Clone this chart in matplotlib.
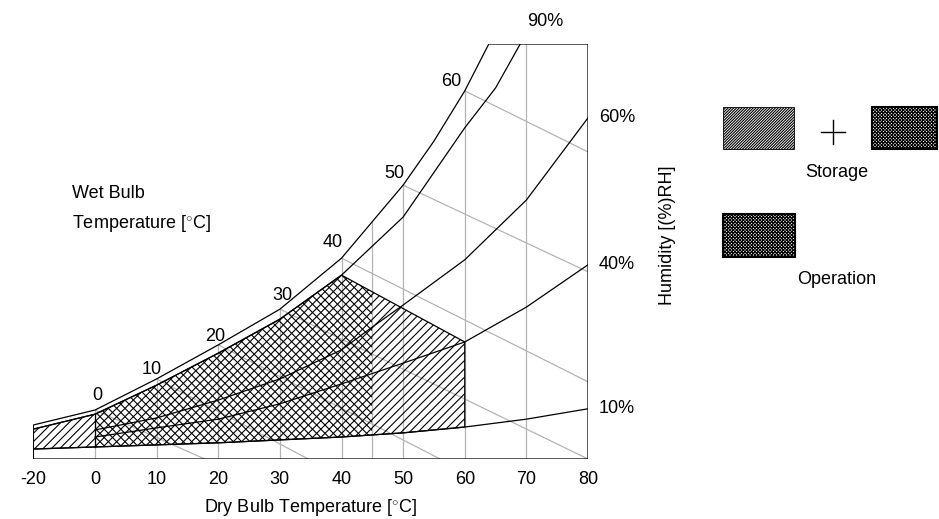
import numpy as np
import matplotlib
matplotlib.use('Agg')
import matplotlib.pyplot as plt
from matplotlib.patches import Polygon, Rectangle
from matplotlib.lines import Line2D

plt.rcParams.update({
    'font.family': ['Liberation Sans', 'DejaVu Sans'],
    'font.size': 13,
    'hatch.linewidth': 0.8,
    'mathtext.fontset': 'custom',
    'mathtext.rm': 'Liberation Sans',
})

# --- curves (x = dry bulb [°C], y = humidity, 0..100 = chart height) ---
t_sat = [-20, 0, 10, 20, 30, 40, 50, 55, 60, 63.9]
h_sat = [8.2, 11.8, 19.3, 27.5, 36.1, 48.4, 66.0, 76.6, 88.7, 100.0]

t_90 = [-20, 0, 10, 20, 30, 40, 50, 60, 65, 69]
h_90 = [7.2, 10.8, 17.8, 25.5, 33.7, 44.3, 58.3, 79.8, 89.4, 100.0]

t_60 = [0, 10, 20, 30, 40, 45, 50, 60, 70, 80]
h_60 = [7.0, 9.9, 14.2, 19.3, 26.3, 31.8, 37.1, 48.0, 62.4, 82.2]

t_40 = [0, 10, 20, 30, 40, 50, 60, 70, 80]
h_40 = [5.3, 7.5, 9.6, 13.3, 18.1, 23.1, 28.2, 36.6, 46.8]

t_10 = [-20, 0, 10, 20, 30, 40, 50, 60, 70, 80]
h_10 = [2.4, 2.9, 3.4, 3.9, 4.6, 5.3, 6.3, 7.7, 9.6, 12.1]

# wet bulb lines: start on the saturation curve, end on the frame
wb_temps = [0, 10, 20, 30, 40, 50, 60]
wb_end_t = [17.8, 34.6, 56, 80, 80, 80, 80]
wb_end_h = [0, 0, 0, 0, 18.6, 45.1, 74.0]

grid_temps = [0, 10, 20, 30, 40, 45, 50, 60, 70]
x_ticks = [-20, 0, 10, 20, 30, 40, 50, 60, 70, 80]

storage_max_t = 60
operation_range = (0, 45)
wb_top_t = 40


def fwd(x):
    x = np.asarray(x, dtype=float)
    return np.where(x < 0, x / 2, x)


def inv(x):
    x = np.asarray(x, dtype=float)
    return np.where(x < 0, x * 2, x)


W, H = 939, 519
fig = plt.figure(figsize=(W / 100, H / 100), dpi=100)
ax = fig.add_axes([33.4 / W, 1 - 459 / H, (588 - 33.4) / W, (459 - 44) / H])
ax.set_xscale('function', functions=(fwd, inv))
ax.set_xlim(-20, 80)
ax.set_ylim(0, 100)
for s in ax.spines.values():
    s.set_visible(False)
ax.set_yticks([])
ax.set_xticks(x_ticks)
ax.set_xticklabels([str(t) for t in x_ticks])
ax.tick_params(axis='x', length=0, pad=9, labelsize=13)
ax.patch.set_visible(False)

# chart frame (also used to clip grid lines)
frame_verts = [(80, 0), (-20, 0)] + list(zip(t_sat, h_sat)) + [(80, 100)]
frame = Polygon(frame_verts, closed=True, facecolor='none', edgecolor='black',
                lw=0.9, zorder=5)
ax.add_patch(frame)

grey = '#b4b4b4'
for t in grid_temps:
    ln, = ax.plot([t, t], [0, 100], color=grey, lw=0.9, zorder=1)
    ln.set_clip_path(frame)

sat_lookup = dict(zip(t_sat, h_sat))
for t, te, he in zip(wb_temps, wb_end_t, wb_end_h):
    ln, = ax.plot([t, te], [sat_lookup[t], he], color=grey, lw=0.9, zorder=1)
    ln.set_clip_path(frame)

# storage / operation areas
t90 = np.array(t_90); h90 = np.array(h_90)
t10 = np.array(t_10); h10 = np.array(h_10)
m90 = t90 <= wb_top_t
m10 = t10 <= storage_max_t
corner = (storage_max_t, dict(zip(t_40, h_40))[storage_max_t])
area = list(zip(t90[m90], h90[m90])) + [corner] + list(zip(t10[m10], h10[m10]))[::-1]

storage = Polygon(area, closed=True, facecolor='none', edgecolor='black',
                  lw=0, hatch='////', zorder=2)
ax.add_patch(storage)
operation = Polygon(area, closed=True, facecolor='none', edgecolor='black',
                    lw=0, hatch='\\\\\\\\', zorder=2)
ax.add_patch(operation)
clip = Rectangle((operation_range[0], 0), operation_range[1] - operation_range[0], 100,
                 transform=ax.transData, facecolor='none', edgecolor='none')
ax.add_patch(clip)
operation.set_clip_path(clip)
ax.add_patch(Polygon(area, closed=True, facecolor='none', edgecolor='black', lw=0.9, zorder=3))
ax.plot([0, 0], [dict(zip(t_10, h_10))[0], dict(zip(t_90, h_90))[0]], color='black', lw=0.9, zorder=3)

# humidity curves
for tt, hh in [(t_90, h_90), (t_60, h_60), (t_40, h_40), (t_10, h_10)]:
    ax.plot(tt, hh, color='black', lw=0.9, zorder=4)

# labels
ax.annotate('90%', (t_90[-1], h_90[-1]), xytext=(25, 22), textcoords='offset pixels',
            ha='center', va='center')
for lab, hh in [('60%', h_60), ('40%', h_40), ('10%', h_10)]:
    ax.annotate(lab, (80, hh[-1]), xytext=(11, 0), textcoords='offset pixels',
                ha='left', va='center')

wb_offsets = [(2, 15), (-5, 9), (-3, 8), (3, 14), (-9, 16), (-9, 12), (-14, 9)]
for t, off in zip(wb_temps, wb_offsets):
    ax.annotate(str(t), (t, sat_lookup[t]), xytext=off, textcoords='offset pixels',
                ha='center', va='center')

ax.text(0.5, -0.1157, r'Dry Bulb Temperature [$^{\circ}$C]', transform=ax.transAxes,
        ha='center', va='center')

fig.text(668 / W, 1 - 235 / H, 'Humidity [(%)RH]', rotation=90, ha='center', va='center')
fig.text(72 / W, 1 - 193 / H, 'Wet Bulb', ha='left', va='center')
fig.text(72 / W, 1 - 223 / H, r'Temperature [$^{\circ}$C]', ha='left', va='center')

# legend
def box(x0, y0, x1, y1, hatch, lw):
    r = Rectangle((x0 / W, 1 - y1 / H), (x1 - x0) / W, (y1 - y0) / H,
                  transform=fig.transFigure, facecolor='white', edgecolor='black',
                  hatch=hatch, lw=lw)
    fig.add_artist(r)

box(723, 107, 794, 149, '////////////', 0.6)
box(872, 107, 937, 149, 'xxxxxxxxxx', 1.5)
box(723, 214, 795, 257, 'xxxxxxxxxx', 1.5)
fig.add_artist(Line2D([821 / W, 845 / W], [1 - 132 / H] * 2, transform=fig.transFigure, color='black', lw=1))
fig.add_artist(Line2D([833 / W] * 2, [1 - 120 / H, 1 - 144 / H], transform=fig.transFigure, color='black', lw=1))
fig.text(837 / W, 1 - 173 / H, 'Storage', ha='center', va='center')
fig.text(837 / W, 1 - 280 / H, 'Operation', ha='center', va='center')

fig.savefig('out.png', dpi=100)
